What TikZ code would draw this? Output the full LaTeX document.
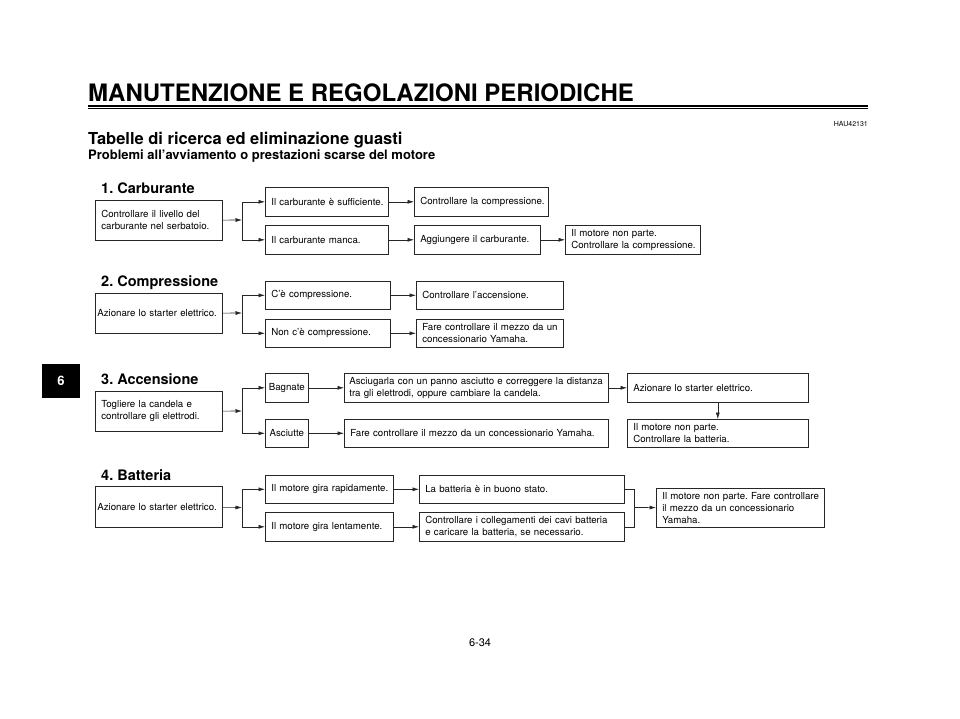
\documentclass[tikz,border=0pt]{standalone}
\usepackage{fontspec}
\setmainfont{TeX Gyre Heros}
\usetikzlibrary{arrows.meta}
\frenchspacing

\newcommand\boxfont{\fontsize{9.7}{12}\selectfont}
\newcommand\boxset{\leftskip=6pt\rightskip=0pt plus 1fil\hyphenpenalty=10000\exhyphenpenalty=10000}
\tikzset{
  box/.style={draw=black!85, line width=0.6pt, anchor=north west, align=left, inner xsep=0pt, inner ysep=1pt, font=\boxfont, execute at begin node=\boxset},
  tag/.style={draw=black!85, line width=0.6pt, anchor=north west, align=center, inner xsep=0pt, inner ysep=1pt, font=\boxfont},
  arr/.style={-{Latex[length=6.5pt,width=4pt]}, line width=0.6pt, draw=black!85},
  part/.style={anchor=base west, inner sep=0, font=\fontsize{14.5}{16}\selectfont\bfseries},
}

\begin{document}
\begin{tikzpicture}[x=1pt,y=-1pt]
\useasboundingbox (0,0) rectangle (960,718);

% header
\node[anchor=base west, inner sep=0, font=\fontsize{24}{26}\selectfont\bfseries] (head) at (88,101) {MANUTENZIONE E REGOLAZIONI PERIODICHE};
\draw[line width=2pt] (88,105.5) -- (868,105.5);
\draw[line width=0.8pt] (88,108.5) -- (868,108.5);
\node[anchor=base east, inner sep=0, font=\fontsize{7}{8}\selectfont] (code) at (868,126) {HAU42131};
\node[anchor=base west, inner sep=0, font=\fontsize{16.5}{18}\selectfont\bfseries] (title) at (88,144) {Tabelle di ricerca ed eliminazione guasti};
\node[anchor=base west, inner sep=0, font=\fontsize{13}{15}\selectfont\bfseries] (subtitle) at (88,159) {Problemi all’avviamento o prestazioni scarse del motore};

% side tab
\fill (42,364) rectangle (80,398);
\node[white, font=\fontsize{13}{14}\selectfont\bfseries] (tab) at (61,381) {6};

% 1. carburante
\node[part] (p1) at (101,193) {1. Carburante};
\node[box, text width=127pt, minimum height=40pt] (a1) at (95,200) {Controllare il livello del\\carburante nel serbatoio.};
\node[box, text width=123pt, minimum height=29pt] (b1) at (265,187) {Il carburante è sufficiente.};
\node[box, text width=123pt, minimum height=29pt] (b2) at (265,225) {Il carburante manca.};
\node[box, text width=134pt, minimum height=29pt] (c1) at (414,187) {Controllare la compressione.};
\node[box, text width=126pt, minimum height=29pt] (c2) at (414,225) {Aggiungere il carburante.};
\node[box, text width=135pt, minimum height=29pt] (d2) at (565,225) {Il motore non parte.\\Controllare la compressione.};
\coordinate (j1) at (242,220);
\draw[arr] (a1) -- (j1);
\foreach\n in {b1,b2}
\draw[arr] (j1) |- (\n);
\draw[arr] (b1) -- (c1);
\draw[arr] (b2) -- (c2);
\draw[arr] (c2) -- (d2);

% 2. compressione
\node[part] (p2) at (101,286) {2. Compressione};
\node[box, execute at begin node={\leftskip=2pt}, text width=127pt, minimum height=40pt] (a2) at (95,293) {Azionare lo starter elettrico.};
\node[box, text width=125pt, minimum height=28pt] (b21) at (265,281) {C’è compressione.};
\node[box, text width=125pt, minimum height=28pt] (b22) at (265,319) {Non c’è compressione.};
\node[box, text width=147pt, minimum height=28pt] (c21) at (416,281) {Controllare l’accensione.};
\node[box, text width=147pt, minimum height=28pt] (c22) at (416,319) {Fare controllare il mezzo da un\\concessionario Yamaha.};
\coordinate (j2) at (242,313);
\draw[arr] (a2) -- (j2);
\foreach\n in {b21,b22}
\draw[arr] (j2) |- (\n);
\draw[arr] (b21) -- (c21);
\draw[arr] (b22) -- (c22);

% 3. accensione
\node[part] (p3) at (101,384) {3. Accensione};
\node[box, text width=127pt, minimum height=40pt] (a3) at (95,391) {Togliere la candela e\\controllare gli elettrodi.};
\node[tag, text width=43pt, minimum height=29pt] (b31) at (265,373) {Bagnate};
\node[tag, text width=43pt, minimum height=28pt] (b32) at (265,419) {Asciutte};
\node[box, execute at begin node={\leftskip=5pt}, text width=264pt, minimum height=29pt] (c31) at (344,373) {Asciugarla con un panno asciutto e correggere la distanza\\tra gli elettrodi, oppure cambiare la candela.};
\node[box, text width=264pt, minimum height=28pt] (c32) at (344,419) {Fare controllare il mezzo da un concessionario Yamaha.};
\node[box, text width=181pt, minimum height=29pt] (d31) at (627,373) {Azionare lo starter elettrico.};
\node[box, text width=181pt, minimum height=28pt] (d32) at (627,419) {Il motore non parte.\\Controllare la batteria.};
\coordinate (j3) at (242,411);
\draw[arr] (a3) -- (j3);
\foreach\n in {b31,b32}
\draw[arr] (j3) |- (\n);
\draw[arr] (b31) -- (c31);
\draw[arr] (b32) -- (c32);
\draw[arr] (c31) -- (d31);
\draw[arr] (d31) -- (d32);

% 4. batteria
\node[part] (p4) at (101,480) {4. Batteria};
\node[box, execute at begin node={\leftskip=2pt}, text width=127pt, minimum height=41pt] (a4) at (95,486) {Azionare lo starter elettrico.};
\node[box, text width=128pt, minimum height=28pt] (b41) at (265,475) {Il motore gira rapidamente.};
\node[box, text width=128pt, minimum height=29pt] (b42) at (265,512) {Il motore gira lentamente.};
\node[box, text width=205pt, minimum height=28pt] (c41) at (419,475) {La batteria è in buono stato.};
\node[box, text width=205pt, minimum height=29pt] (c42) at (419,512) {Controllare i collegamenti dei cavi batteria\\e caricare la batteria, se necessario.};
\node[box, text width=168pt, minimum height=39pt] (d4) at (656,488) {Il motore non parte. Fare controllare\\il mezzo da un concessionario\\Yamaha.};
\coordinate (j4) at (242,507.5);
\coordinate (m4) at (634,507.5);
\draw[arr] (a4) -- (j4);
\foreach\n in {b41,b42}
\draw[arr] (j4) |- (\n);
\draw[arr] (b41) -- (c41);
\draw[arr] (b42) -- (c42);
\foreach\n in {c41,c42}
\draw[line width=0.6pt, black!85] (\n) -| (m4);
\draw[arr] (m4) -- (d4);

% page number
\node[font=\fontsize{11}{12}\selectfont] (page) at (480,643) {6-34};

\end{tikzpicture}
\end{document}
